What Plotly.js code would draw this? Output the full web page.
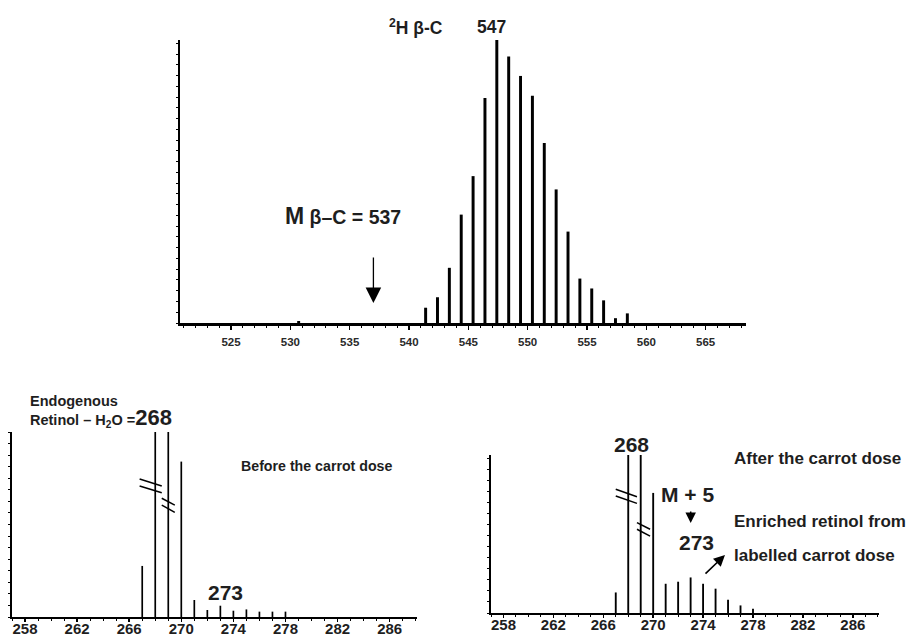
<!DOCTYPE html>
<html><head><meta charset="utf-8">
<script src="https://cdn.plot.ly/plotly-3.0.1.min.js"></script>
<style>html,body{margin:0;padding:0;background:#fff}#chart{width:911px;height:637px}</style>
</head><body><div id="chart"></div>
<script>
// ---- Data ----
// Top: deuterated beta-carotene isotopomer cluster (m/z, relative intensity %)
const betaCMz  = [530.7, 541.4, 542.4, 543.4, 544.4, 545.4, 546.4, 547.4, 548.4, 549.4, 550.4, 551.4, 552.4, 553.4, 554.4, 555.4, 556.4, 557.4, 558.4];
const betaCInt = [0.7,   5.4,   9.1,   19.5,  38.3,  51.9,  79.5,  100,   94.2,  87.3,  80.3,  63.6,  47.2,  32.3,  15.7,  12.2,  8.0,   1.7,   3.4];
const topTicks = [525, 530, 535, 540, 545, 550, 555, 560, 565];
const unlabelledMass = 537;

// Bottom: retinol - H2O fragment (m/z 267..278); 268 and 269 are truncated (off scale)
const retinolMz = [267, 268, 269, 270, 271, 272, 273, 274, 275, 276, 277, 278];
const beforeInt = [27.6, 100, 100, 84, 9.2, 3.8, 6.1, 3.4, 4.1, 2.9, 2.9, 2.9];
const afterInt  = [13,   100, 100, 76, 18.5, 19.8, 22.5, 18.5, 15.4, 8.4, 4.8, 2.7];
const bottomTicks = [258, 262, 266, 270, 274, 278, 282, 286];

// ---- Layout helpers (pixel -> paper) ----
const W = 911, H = 637;
const px = x => x / W, py = y => 1 - y / H;
const FONT = 'Liberation Sans, Arial, Helvetica, sans-serif';
const TXT = '#1e1e1e';

const traces = [
  {type: 'bar', x: betaCMz, y: betaCInt, width: 0.25, marker: {color: '#000', line: {width: 0}}, xaxis: 'x', yaxis: 'y'},
  {type: 'bar', x: retinolMz, y: beforeInt, width: 0.13, marker: {color: '#000', line: {width: 0}}, xaxis: 'x2', yaxis: 'y2'},
  {type: 'bar', x: retinolMz, y: afterInt, width: 0.15, marker: {color: '#000', line: {width: 0}}, xaxis: 'x3', yaxis: 'y3'}
];

const xBottom = (domain, anchor) => ({
  domain, anchor, range: [257, 288.1], tickmode: 'array', tickvals: bottomTicks,
  showline: true, linecolor: '#000', linewidth: 2, ticks: 'outside', ticklen: 3, tickwidth: 1.5, tickcolor: '#000',
  minor: {tickmode: 'linear', tick0: 257, dtick: 1, ticks: 'outside', ticklen: 2, tickwidth: 1, tickcolor: '#000'},
  tickfont: {family: FONT, size: 15, color: TXT, weight: 'bold'}, ticklabelstandoff: -6,
  showgrid: false, zeroline: false, fixedrange: true
});
const yAxis = (domain, anchor, dtick, lw) => ({
  domain, anchor, range: [0, 100], showline: true, linecolor: '#000', linewidth: lw,
  ticks: 'outside', ticklen: 2, tickwidth: 1, tickcolor: '#000', tickmode: 'linear', tick0: 0, dtick,
  showticklabels: false, showgrid: false, zeroline: false, fixedrange: true
});

const layout = {
  width: W, height: H, margin: {l: 0, r: 0, t: 0, b: 0},
  paper_bgcolor: '#fff', plot_bgcolor: '#fff', showlegend: false,
  font: {family: FONT, color: TXT},
  xaxis: {
    domain: [px(180), px(746)], anchor: 'y', range: [520.7, 568.4],
    tickmode: 'array', tickvals: topTicks,
    showline: true, linecolor: '#000', linewidth: 2.5, ticks: 'outside', ticklen: 4, tickwidth: 1.5, tickcolor: '#000',
    minor: {tickmode: 'linear', tick0: 520, dtick: 1, ticks: 'outside', ticklen: 2, tickwidth: 1, tickcolor: '#000'},
    tickfont: {family: FONT, size: 11.5, color: '#2a2a2a', weight: 'bold'}, ticklabelstandoff: 3,
    showgrid: false, zeroline: false, fixedrange: true
  },
  yaxis: yAxis([py(323), py(40)], 'x', 3.8, 2.5),
  xaxis2: xBottom([px(12), px(417)], 'y2'),
  yaxis2: yAxis([py(617), py(432)], 'x2', 6.25, 2),
  xaxis3: xBottom([px(491), px(879)], 'y3'),
  yaxis3: yAxis([py(613), py(455)], 'x3', 7, 2),
  shapes: [
    // break marks on truncated peaks (before)
    {type: 'line', xref: 'x2', yref: 'y2', x0: 266.8, y0: 74.6, x1: 268.5, y1: 70.8, line: {color: '#000', width: 1.5}},
    {type: 'line', xref: 'x2', yref: 'y2', x0: 266.8, y0: 70.8, x1: 268.5, y1: 67.2, line: {color: '#000', width: 1.5}},
    {type: 'line', xref: 'x2', yref: 'y2', x0: 268.5, y0: 64.2, x1: 269.5, y1: 60.5, line: {color: '#000', width: 1.5}},
    {type: 'line', xref: 'x2', yref: 'y2', x0: 268.5, y0: 60.5, x1: 269.5, y1: 56.6, line: {color: '#000', width: 1.5}},
    // break marks (after)
    {type: 'line', xref: 'x3', yref: 'y3', x0: 267.0, y0: 78.3, x1: 268.7, y1: 73.6, line: {color: '#000', width: 1.5}},
    {type: 'line', xref: 'x3', yref: 'y3', x0: 267.0, y0: 74.1, x1: 268.7, y1: 69.4, line: {color: '#000', width: 1.5}},
    {type: 'line', xref: 'x3', yref: 'y3', x0: 268.7, y0: 57.2, x1: 269.75, y1: 53.0, line: {color: '#000', width: 1.5}},
    {type: 'line', xref: 'x3', yref: 'y3', x0: 268.7, y0: 53.0, x1: 269.75, y1: 48.7, line: {color: '#000', width: 1.5}}
  ],
  annotations: [
    {xref: 'paper', yref: 'paper', x: px(387), y: py(27), xanchor: 'left', yanchor: 'middle', showarrow: false,
     text: '<b><sup>2</sup>H β-C</b>', font: {size: 17.5, color: TXT}},
    {xref: 'paper', yref: 'paper', x: px(492), y: py(27), xanchor: 'center', yanchor: 'middle', showarrow: false,
     text: '<b>547</b>', font: {size: 17.5, color: TXT}},
    {xref: 'paper', yref: 'paper', x: px(283), y: py(216), xanchor: 'left', yanchor: 'middle', showarrow: false,
     text: '<b><span style="font-size:23px">M</span> β–C = 537</b>', font: {size: 19.5, color: TXT}},
    {xref: 'x', yref: 'paper', x: unlabelledMass, y: py(303), ax: 0, ay: -47, showarrow: true, text: '',
     arrowhead: 2, arrowsize: 2.4, arrowwidth: 1.3, arrowcolor: '#000'},

    {xref: 'paper', yref: 'paper', x: px(28), y: py(401), xanchor: 'left', yanchor: 'middle', showarrow: false,
     text: '<b>Endogenous</b>', font: {size: 14.5, color: TXT}},
    {xref: 'paper', yref: 'paper', x: px(28), y: py(417), xanchor: 'left', yanchor: 'middle', showarrow: false,
     text: '<b>Retinol – H<sub>2</sub>O =<span style="font-size:22px">268</span></b>', font: {size: 14.5, color: TXT}},
    {xref: 'paper', yref: 'paper', x: px(239), y: py(466), xanchor: 'left', yanchor: 'middle', showarrow: false,
     text: '<b>Before the carrot dose</b>', font: {size: 14.2, color: TXT}},
    {xref: 'paper', yref: 'paper', x: px(225.5), y: py(592), xanchor: 'center', yanchor: 'middle', showarrow: false,
     text: '<b>273</b>', font: {size: 21, color: TXT}},

    {xref: 'paper', yref: 'paper', x: px(631), y: py(444), xanchor: 'center', yanchor: 'middle', showarrow: false,
     text: '<b>268</b>', font: {size: 21, color: TXT}},
    {xref: 'paper', yref: 'paper', x: px(732), y: py(459), xanchor: 'left', yanchor: 'middle', showarrow: false,
     text: '<b>After the carrot dose</b>', font: {size: 17, color: TXT}},
    {xref: 'paper', yref: 'paper', x: px(659), y: py(494), xanchor: 'left', yanchor: 'middle', showarrow: false,
     text: '<b>M + 5</b>', font: {size: 21, color: TXT}},
    {xref: 'paper', yref: 'paper', x: px(690.7), y: py(523), ax: 0, ay: -13, showarrow: true, text: '',
     arrowhead: 2, arrowsize: 1.4, arrowwidth: 1.5, arrowcolor: '#000'},
    {xref: 'paper', yref: 'paper', x: px(677), y: py(542), xanchor: 'left', yanchor: 'middle', showarrow: false,
     text: '<b>273</b>', font: {size: 21, color: TXT}},
    {xref: 'paper', yref: 'paper', x: px(732), y: py(521), xanchor: 'left', yanchor: 'middle', showarrow: false,
     text: '<b>Enriched retinol from</b>', font: {size: 17, color: TXT}},
    {xref: 'paper', yref: 'paper', x: px(732), y: py(555), xanchor: 'left', yanchor: 'middle', showarrow: false,
     text: '<b>labelled carrot dose</b>', font: {size: 17, color: TXT}},
    {xref: 'paper', yref: 'paper', x: px(725), y: py(555), ax: -21, ay: 20, showarrow: true, text: '',
     arrowhead: 2, arrowsize: 1.4, arrowwidth: 1.6, arrowcolor: '#000'}
  ]
};

Plotly.newPlot('chart', traces, layout, {displayModeBar: false, staticPlot: true});
</script>
</body></html>
